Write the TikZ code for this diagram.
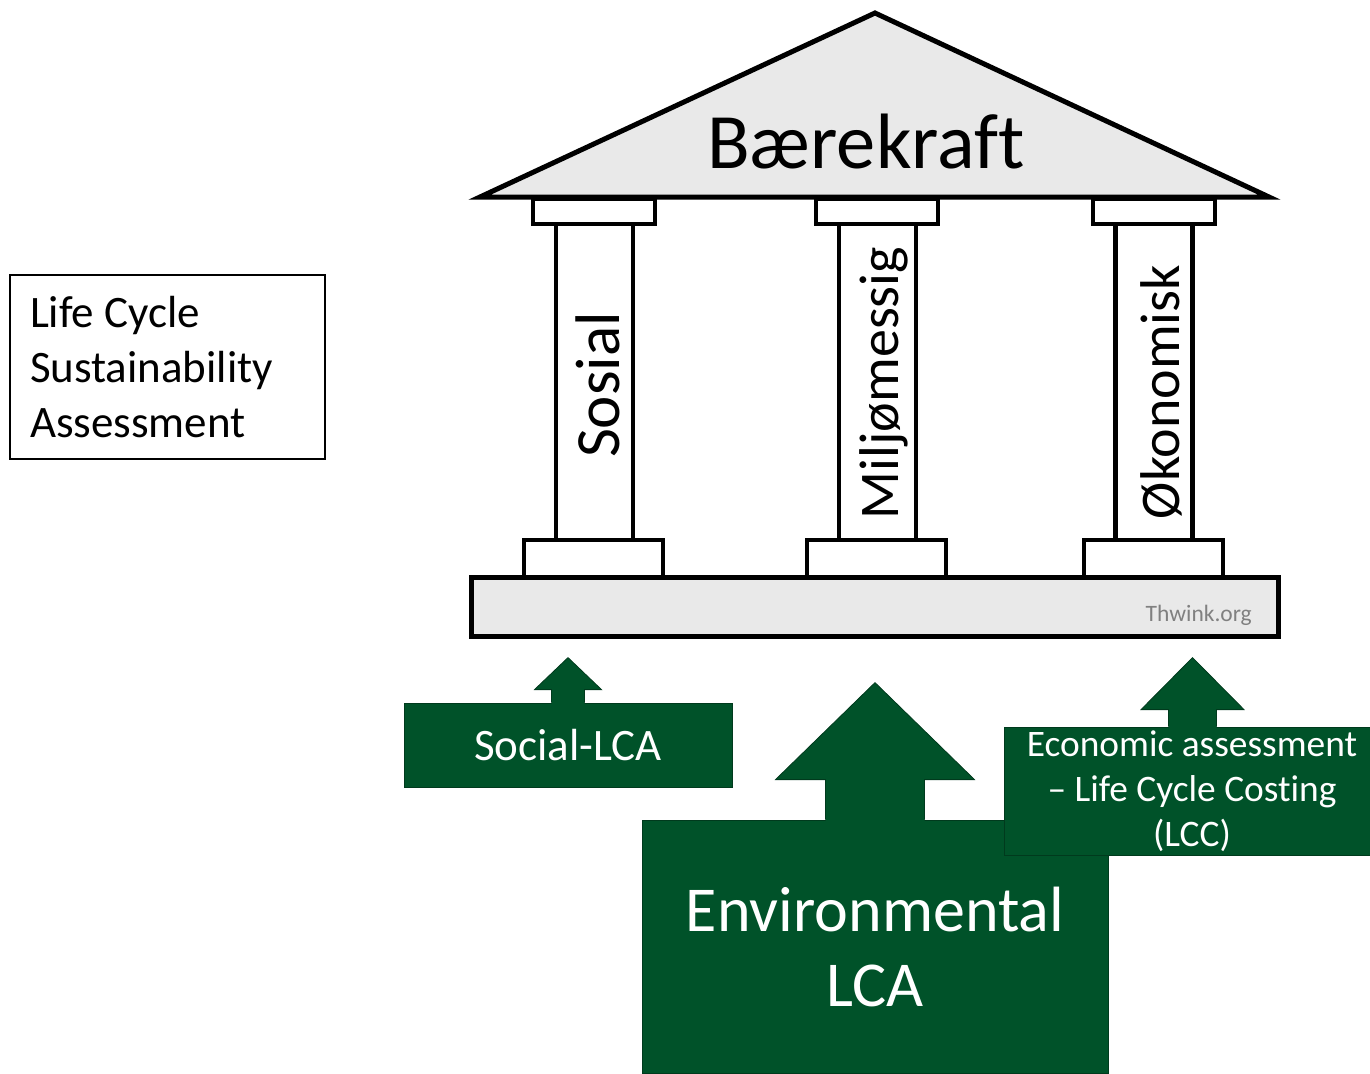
\documentclass[tikz,border=0pt]{standalone}
\usepackage{fontspec}
\setmainfont{Carlito}[Ligatures=NoCommon]
\usetikzlibrary{positioning,calc}

\definecolor{lcagreen}{RGB}{0,82,41}
\definecolor{lcaedge}{RGB}{0,58,29}
\definecolor{templegray}{RGB}{233,233,233}

% up arrow standing on a point at the top side of a box
% #1 foot point, #2 half shaft, #3 half head, #4 shaft length, #5 tip height
\newcommand{\boxarrow}[5]{%
  \fill[lcagreen] ($(#1)+(-#2,2)$) -- ($(#1)+(-#2,-#4)$) -- ($(#1)+(-#3,-#4)$)
    -- ($(#1)+(0,-#5)$) -- ($(#1)+(#3,-#4)$) -- ($(#1)+(#2,-#4)$) -- ($(#1)+(#2,2)$) -- cycle;
  \draw[lcaedge, line width=0.8pt] ($(#1)+(-#2,0)$) -- ($(#1)+(-#2,-#4)$) -- ($(#1)+(-#3,-#4)$)
    -- ($(#1)+(0,-#5)$) -- ($(#1)+(#3,-#4)$) -- ($(#1)+(#2,-#4)$) -- ($(#1)+(#2,0)$);
}

\begin{document}
\begin{tikzpicture}[x=1pt, y=-1pt]
	\useasboundingbox (0,0) rectangle (1370,1073);

	\begin{scope}[every node/.style={draw, line width=4.5pt, fill=white, inner sep=0pt}]
		\node (shaftS)[minimum width=77pt, minimum height=316pt] at (594.5,382) {};
		\node (shaftM)[minimum width=77pt, minimum height=316pt] at (877.5,382) {};
		\node (shaftO)[minimum width=77pt, minimum height=316pt] at (1154,382) {};
		\node (capS)[minimum width=122pt, minimum height=25pt] at (594,211.5) {};
		\node (capM)[minimum width=122pt, minimum height=25pt] at (877,211.5) {};
		\node (capO)[minimum width=122pt, minimum height=25pt] at (1154,211.5) {};
		\node (footS)[minimum width=139pt, minimum height=37pt] at (593.5,558.5) {};
		\node (footM)[minimum width=139pt, minimum height=37pt] at (876.5,558.5) {};
		\node (footO)[minimum width=139pt, minimum height=37pt] at (1153.5,558.5) {};
		\node (platform)[line width=5pt, fill=templegray, minimum width=807pt, minimum height=59pt] at (874.5,606.5) {};
	\end{scope}

	\draw[line width=5pt, fill=templegray] (480,197) -- (875,13) -- (1269,197) -- cycle;
	\node (roof)[anchor=base] at (866,168) {\fontsize{78.5}{92}\selectfont Bærekraft};

	\begin{scope}[every node/.style={rotate=90, anchor=base, inner sep=0pt, font=\fontsize{56}{68}\selectfont}]
		\node (sosial)[font=\fontsize{63}{75}\selectfont] at (619,385) {Sosial};
		\node (miljo) at (898,383) {Miljømessig};
		\node (okonomi) at (1179,392) {Økonomisk};
	\end{scope}
	\node (thwink)[anchor=base east, inner sep=0pt, text=black!50, font=\fontsize{23.5}{28}\selectfont] at (1252,621) {Thwink.org};

	\node (lcsa)[draw, line width=1.2pt, minimum width=315pt, minimum height=184pt, inner sep=0pt,
		text width=275pt, align=flush left, font=\fontsize{45}{55}\selectfont] at (167.5,367)
		{Life Cycle\\Sustainability\\Assessment};

	\begin{scope}[every node/.style={draw=lcaedge, line width=0.8pt, fill=lcagreen, text=white, inner sep=0pt, align=center}]
		\node (env)[minimum width=466pt, minimum height=253pt, font=\fontsize{64}{75}\selectfont] at (875,946.5) {Environmental\\LCA};
		\boxarrow{env.north}{49.5}{99.5}{40}{137}
		\node (social)[minimum width=328pt, minimum height=84pt, font=\fontsize{45}{54}\selectfont] at (568,745) {Social-LCA};
		\boxarrow{social.north}{16.5}{33.5}{13}{45}
		\node (econ)[minimum width=366pt, minimum height=128pt, font=\fontsize{37.4}{45}\selectfont] at (1187,791) {\hspace*{10pt}Economic assessment\\\hspace*{10pt}– Life Cycle Costing\\\hspace*{10pt}(LCC)};
		\coordinate (econfoot) at ($(econ.north)+(5.5,0)$);
		\boxarrow{econfoot}{24}{51.5}{17}{69}
	\end{scope}
\end{tikzpicture}
\end{document}
